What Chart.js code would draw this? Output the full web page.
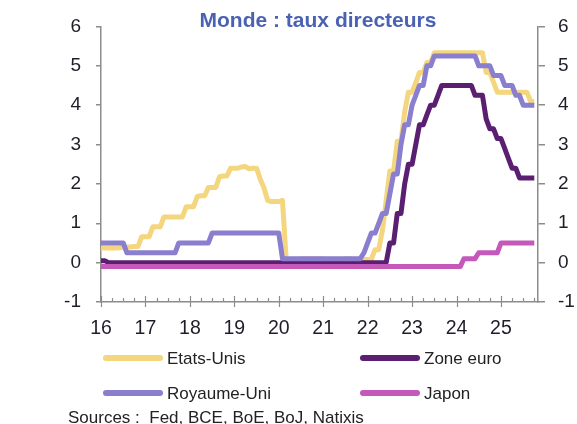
<!DOCTYPE html>
<html lang="fr">
<head>
<meta charset="utf-8">
<title>Monde : taux directeurs</title>
<script src="https://cdn.jsdelivr.net/npm/chart.js@4.4.1/dist/chart.umd.min.js"></script>
<style>
    body { margin: 0; background: #fff; }
    #wrap { position: relative; width: 577px; height: 424px; font-family: 'Liberation Sans', Arial, sans-serif; color: #222; }
    #chart { position: absolute; left: 0; top: 0; }
    .title { position: absolute; left: 0; width: 636px; top: 9px; text-align: center; font-weight: bold; font-size: 21px; line-height: 21px; color: #4a62b4; white-space: nowrap; }
    .swatch { position: absolute; width: 60px; height: 6px; border-radius: 3px; }
    .lbl { position: absolute; font-size: 17px; line-height: 17px; white-space: nowrap; }
</style>
</head>
<body>
<div id="wrap">
    <canvas id="chart" width="577" height="424"></canvas>
    <div class="title">Monde : taux directeurs</div>
    <div id="legend"></div>
    <div class="lbl" style="left:68px; top:409px;">Sources :&nbsp; Fed, BCE, BoE, BoJ, Natixis</div>
</div>
<script>
// Years shown on the axis (monthly data, Jan 2016 -> Oct 2025)
const years = ['16', '17', '18', '19', '20', '21', '22', '23', '24', '25'];
const lastYearMonths = 11; // axis runs to Nov 2025

// Policy rates (%), month by month
const usRate = [
    0.38, 0.37, 0.37, 0.37, 0.37, 0.38, 0.39, 0.40, 0.40, 0.41, 0.41, 0.66,
    0.66, 0.66, 0.91, 0.91, 0.91, 1.16, 1.16, 1.16, 1.16, 1.16, 1.16, 1.42,
    1.42, 1.42, 1.68, 1.70, 1.70, 1.91, 1.91, 1.91, 2.18, 2.20, 2.20, 2.40,
    2.40, 2.40, 2.43, 2.44, 2.38, 2.40, 2.40, 2.12, 1.90, 1.58, 1.55, 1.55,
    1.55, 1.58, 0.08, 0.05, 0.05, 0.08, 0.09, 0.10, 0.09, 0.09, 0.09, 0.09,
    0.09, 0.08, 0.07, 0.07, 0.06, 0.08, 0.10, 0.09, 0.08, 0.08, 0.08, 0.08,
    0.08, 0.08, 0.33, 0.33, 0.83, 1.58, 2.33, 2.33, 3.08, 3.08, 3.83, 4.33,
    4.33, 4.57, 4.83, 4.83, 5.08, 5.08, 5.33, 5.33, 5.33, 5.33, 5.33, 5.33,
    5.33, 5.33, 5.33, 5.33, 5.33, 5.33, 5.33, 5.33, 4.83, 4.83, 4.58, 4.33,
    4.33, 4.33, 4.33, 4.33, 4.33, 4.33, 4.33, 4.33, 4.09, 4.09
];
const ezRate = [
    0.05, 0.05, 0, 0, 0, 0, 0, 0, 0, 0, 0, 0,
    0, 0, 0, 0, 0, 0, 0, 0, 0, 0, 0, 0,
    0, 0, 0, 0, 0, 0, 0, 0, 0, 0, 0, 0,
    0, 0, 0, 0, 0, 0, 0, 0, 0, 0, 0, 0,
    0, 0, 0, 0, 0, 0, 0, 0, 0, 0, 0, 0,
    0, 0, 0, 0, 0, 0, 0, 0, 0, 0, 0, 0,
    0, 0, 0, 0, 0, 0, 0.5, 0.5, 1.25, 1.25, 2.0, 2.5,
    2.5, 3.0, 3.5, 3.5, 3.75, 4.0, 4.0, 4.25, 4.5, 4.5, 4.5, 4.5,
    4.5, 4.5, 4.5, 4.5, 4.5, 4.25, 4.25, 4.25, 3.65, 3.40, 3.40, 3.15,
    3.15, 2.90, 2.65, 2.40, 2.40, 2.15, 2.15, 2.15, 2.15, 2.15
];
const ukRate = [
    0.5, 0.5, 0.5, 0.5, 0.5, 0.5, 0.5, 0.25, 0.25, 0.25, 0.25, 0.25,
    0.25, 0.25, 0.25, 0.25, 0.25, 0.25, 0.25, 0.25, 0.25, 0.5, 0.5, 0.5,
    0.5, 0.5, 0.5, 0.5, 0.5, 0.5, 0.75, 0.75, 0.75, 0.75, 0.75, 0.75,
    0.75, 0.75, 0.75, 0.75, 0.75, 0.75, 0.75, 0.75, 0.75, 0.75, 0.75, 0.75,
    0.75, 0.1, 0.1, 0.1, 0.1, 0.1, 0.1, 0.1, 0.1, 0.1, 0.1, 0.1,
    0.1, 0.1, 0.1, 0.1, 0.1, 0.1, 0.1, 0.1, 0.1, 0.1, 0.1, 0.25,
    0.5, 0.75, 0.75, 1.0, 1.25, 1.25, 1.75, 2.25, 2.25, 3.0, 3.5, 3.5,
    4.0, 4.25, 4.5, 4.5, 5.0, 5.0, 5.25, 5.25, 5.25, 5.25, 5.25, 5.25,
    5.25, 5.25, 5.25, 5.25, 5.25, 5.25, 5.0, 5.0, 5.0, 5.0, 4.75, 4.75,
    4.75, 4.5, 4.5, 4.5, 4.25, 4.25, 4.0, 4.0, 4.0, 4.0
];
const jpRate = [
    -0.1, -0.1, -0.1, -0.1, -0.1, -0.1, -0.1, -0.1, -0.1, -0.1, -0.1, -0.1,
    -0.1, -0.1, -0.1, -0.1, -0.1, -0.1, -0.1, -0.1, -0.1, -0.1, -0.1, -0.1,
    -0.1, -0.1, -0.1, -0.1, -0.1, -0.1, -0.1, -0.1, -0.1, -0.1, -0.1, -0.1,
    -0.1, -0.1, -0.1, -0.1, -0.1, -0.1, -0.1, -0.1, -0.1, -0.1, -0.1, -0.1,
    -0.1, -0.1, -0.1, -0.1, -0.1, -0.1, -0.1, -0.1, -0.1, -0.1, -0.1, -0.1,
    -0.1, -0.1, -0.1, -0.1, -0.1, -0.1, -0.1, -0.1, -0.1, -0.1, -0.1, -0.1,
    -0.1, -0.1, -0.1, -0.1, -0.1, -0.1, -0.1, -0.1, -0.1, -0.1, -0.1, -0.1,
    -0.1, -0.1, -0.1, -0.1, -0.1, -0.1, -0.1, -0.1, -0.1, -0.1, -0.1, -0.1,
    -0.1, -0.1, 0.1, 0.1, 0.1, 0.1, 0.25, 0.25, 0.25, 0.25, 0.25, 0.25,
    0.5, 0.5, 0.5, 0.5, 0.5, 0.5, 0.5, 0.5, 0.5, 0.5
];

const yTicks = [-1, 0, 1, 2, 3, 4, 5, 6];

const axisColor = '#8c8c8c';
const textColor = '#1e1e28';
const colors = { us: '#f4d67f', ez: '#5b1f72', uk: '#8a7ecf', jp: '#c459b9' };

// Month labels "2016-01" ... built from the years list
const months = [];
years.forEach((y, i) => {
    const n = 12;
    for (let m = 1; m <= n; m++) {
        if (i === years.length - 1 && m > lastYearMonths) break;
        months.push('20' + y + '-' + String(m).padStart(2, '0'));
    }
});

// Legend (drawn as HTML)
const legendItems = [
    { text: 'Etats-Unis', color: colors.us, x: 103, y: 358 },
    { text: 'Zone euro', color: colors.ez, x: 360, y: 358 },
    { text: 'Royaume-Uni', color: colors.uk, x: 103, y: 393 },
    { text: 'Japon', color: colors.jp, x: 360, y: 393 }
];
const legend = document.getElementById('legend');
legendItems.forEach(item => {
    const sw = document.createElement('div');
    sw.className = 'swatch';
    sw.style.left = item.x + 'px';
    sw.style.top = (item.y - 3) + 'px';
    sw.style.background = item.color;
    legend.appendChild(sw);
    const t = document.createElement('div');
    t.className = 'lbl';
    t.style.left = (item.x + 64) + 'px';
    t.style.top = (item.y - 8) + 'px';
    t.textContent = item.text;
    legend.appendChild(t);
});

// Quarterly minor ticks and crossing year ticks on the x axis
const xTickMarks = {
    id: 'xTickMarks',
    afterDraw(chart) {
        const xs = chart.scales.x;
        const ctx = chart.ctx;
        const y0 = xs.top;
        ctx.save();
        ctx.strokeStyle = axisColor;
        ctx.lineWidth = 1.2;
        for (let i = 0; i < months.length; i += 3) {
            const px = Math.round(xs.getPixelForValue(i)) + 0.5;
            const major = i % 12 === 0;
            ctx.beginPath();
            ctx.moveTo(px, major ? y0 + 5 : y0);
            ctx.lineTo(px, y0 - (major ? 6 : 4));
            ctx.stroke();
        }
        ctx.restore();
    }
};

function lineSet(label, data, color, order) {
    return {
        label: label,
        data: data,
        borderColor: color,
        backgroundColor: color,
        borderWidth: 5,
        pointRadius: 0,
        tension: 0,
        borderJoinStyle: 'round',
        borderCapStyle: 'butt',
        order: order,
        yAxisID: 'y'
    };
}

const yAxisBase = {
    min: -1,
    max: 6,
    afterBuildTicks: s => { s.ticks = yTicks.map(v => ({ value: v })); },
    border: { display: true, color: axisColor, width: 1.5 },
    ticks: { color: textColor, font: { size: 19 } }
};

new Chart(document.getElementById('chart').getContext('2d'), {
    type: 'line',
    data: {
        labels: months,
        datasets: [
            lineSet('Etats-Unis', usRate, colors.us, 4),
            lineSet('Zone euro', ezRate, colors.ez, 3),
            lineSet('Royaume-Uni', ukRate, colors.uk, 1),
            lineSet('Japon', jpRate, colors.jp, 2)
        ]
    },
    options: {
        responsive: false,
        animation: false,
        devicePixelRatio: 1,
        layout: { padding: { top: 26, left: 0, right: 0, bottom: 0 } },
        font: { family: "'Liberation Sans', Arial, sans-serif" },
        plugins: {
            legend: { display: false },
            tooltip: { enabled: false },
            title: { display: false }
        },
        scales: {
            x: {
                type: 'category',
                offset: false,
                grid: { display: false, drawTicks: false, tickLength: 0 },
                border: { display: true, color: axisColor, width: 1.5 },
                ticks: {
                    autoSkip: false,
                    maxRotation: 0,
                    padding: 15,
                    color: textColor,
                    font: { size: 19.5 },
                    callback: function(value) {
                        const l = this.getLabelForValue(value);
                        return l.endsWith('-01') ? l.slice(2, 4) : null;
                    }
                },
                afterBuildTicks: s => { s.ticks = s.ticks.filter(t => t.value % 12 === 0); },
                afterFit: s => { s.height = 122; }
            },
            y: Object.assign({}, yAxisBase, {
                position: 'left',
                grid: { display: true, drawOnChartArea: false, drawTicks: true, tickLength: 5, color: axisColor, lineWidth: 1.5 },
                ticks: Object.assign({}, yAxisBase.ticks, { padding: 15 }),
                afterFit: s => { s.width = 101; }
            }),
            y2: Object.assign({}, yAxisBase, {
                position: 'right',
                display: true,
                grid: { display: true, drawOnChartArea: false, drawTicks: true, tickLength: 7, color: axisColor, lineWidth: 1.5 },
                ticks: Object.assign({}, yAxisBase.ticks, { padding: 13 }),
                afterFit: s => { s.width = 39; }
            })
        }
    },
    plugins: [xTickMarks]
});
</script>
</body>
</html>
